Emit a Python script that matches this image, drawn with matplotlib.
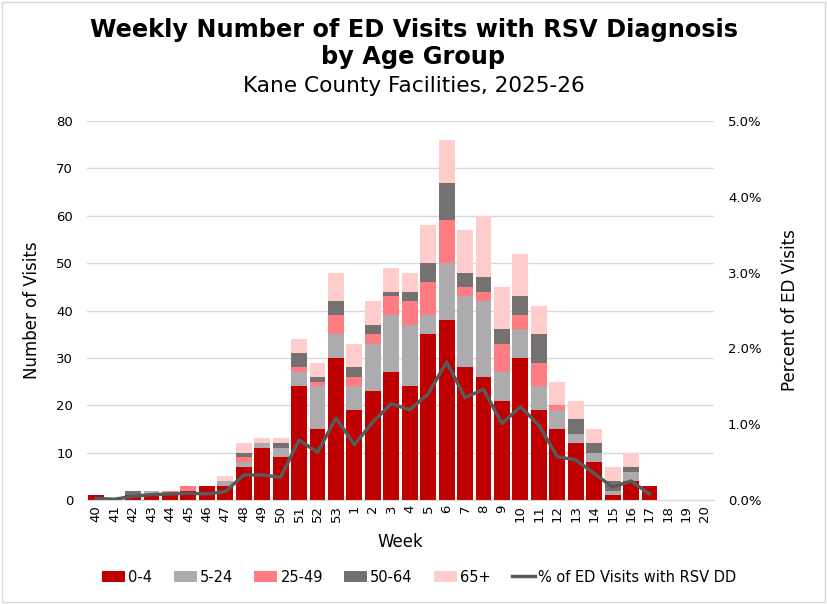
import matplotlib
matplotlib.use('Agg')
import matplotlib.pyplot as plt
from matplotlib.ticker import FuncFormatter, MultipleLocator
import numpy as np

weeks = ['40', '41', '42', '43', '44', '45', '46', '47', '48', '49', '50', '51', '52', '53',
         '1', '2', '3', '4', '5', '6', '7', '8', '9', '10', '11', '12', '13', '14', '15', '16',
         '17', '18', '19', '20']

age_0_4 = [1, 0, 1, 1, 1, 2, 3, 3, 7, 11, 9, 24, 15, 30,
           19, 23, 27, 24, 35, 38, 28, 26, 21, 30, 19, 15, 12, 8, 1, 4,
           3, 0, 0, 0]
age_5_24 = [0, 0, 0, 1, 0, 0, 0, 1, 1, 1, 2, 3, 9, 5,
            5, 10, 12, 13, 4, 12, 15, 16, 6, 6, 5, 4, 2, 2, 1, 2,
            0, 0, 0, 0]
age_25_49 = [0, 0, 0, 0, 1, 1, 0, 0, 1, 0, 0, 1, 1, 4,
             2, 2, 4, 5, 7, 9, 2, 2, 6, 3, 5, 1, 0, 0, 0, 0,
             0, 0, 0, 0]
age_50_64 = [0, 0, 1, 0, 0, 0, 0, 0, 1, 0, 1, 3, 1, 3,
             2, 2, 1, 2, 4, 8, 3, 3, 3, 4, 6, 0, 3, 2, 2, 1,
             0, 0, 0, 0]
age_65 = [0, 0, 0, 0, 0, 0, 0, 1, 2, 1, 1, 3, 3, 6,
          5, 5, 5, 4, 8, 9, 9, 13, 9, 9, 6, 5, 4, 3, 3, 3,
          0, 0, 0, 0]

# percent of ED visits with RSV DD (line ends at week 17)
pct_rsv = [0.02, 0.01, 0.05, 0.07, 0.08, 0.09, 0.08, 0.11, 0.33, 0.33, 0.30, 0.79, 0.63, 1.08,
           0.73, 1.03, 1.27, 1.19, 1.40, 1.82, 1.35, 1.46, 1.01, 1.23, 0.99, 0.57, 0.53, 0.35,
           0.17, 0.25, 0.08]

series = [
    ('0-4', age_0_4, '#C00000'),
    ('5-24', age_5_24, '#AEABAE'),
    ('25-49', age_25_49, '#FF7C80'),
    ('50-64', age_50_64, '#767171'),
    ('65+', age_65, '#FFCCCC'),
]

plt.rcParams['font.family'] = 'DejaVu Sans'

fig = plt.figure(figsize=(8.27, 6.04), dpi=100)
ax = fig.add_axes([87 / 827, 1 - 500 / 604, (714 - 87) / 827, 379 / 604])

x = np.arange(len(weeks))
bottom = np.zeros(len(weeks))
for name, vals, col in series:
    ax.bar(x, vals, width=0.86, bottom=bottom, color=col, label=name, zorder=2)
    bottom += np.array(vals)

ax.set_xlim(-0.5, len(weeks) - 0.5)
ax.set_ylim(0, 80)
ax.yaxis.set_major_locator(MultipleLocator(10))
ax.grid(axis='y', color='#D9D9D9', linewidth=1, zorder=0)
ax.set_axisbelow(True)
for s in ['top', 'right', 'left']:
    ax.spines[s].set_visible(False)
ax.spines['bottom'].set_color('#D9D9D9')
ax.tick_params(axis='both', length=0, labelsize=9.5, colors='#000000')
ax.tick_params(axis='y', pad=10)
ax.set_xticks(x)
ax.set_xticklabels(weeks, rotation=90, fontsize=9.5)
ax.set_xlabel('Week', fontsize=12, labelpad=8)
ax.set_ylabel('Number of Visits', fontsize=12, labelpad=11)

ax2 = ax.twinx()
ax2.plot(np.arange(len(pct_rsv)), pct_rsv, color='#595959', linewidth=2.5, zorder=3,
         label='% of ED Visits with RSV DD')
ax2.set_ylim(0, 5)
ax2.yaxis.set_major_locator(MultipleLocator(1))
ax2.yaxis.set_major_formatter(FuncFormatter(lambda v, p: '%.1f%%' % v))
for s in ['top', 'right', 'left', 'bottom']:
    ax2.spines[s].set_visible(False)
ax2.tick_params(axis='y', length=0, labelsize=9.5, pad=10)
ax2.set_ylabel('Percent of ED Visits', fontsize=12, labelpad=14)

h1, l1 = ax.get_legend_handles_labels()
h2, l2 = ax2.get_legend_handles_labels()
fig.legend(h1 + h2, l1 + l2, loc='center', bbox_to_anchor=(0.507, 1 - 577 / 604), ncol=6,
           frameon=False, fontsize=10.5, handlelength=1.6, handleheight=0.7,
           columnspacing=1.45, handletextpad=0.2)

fig.text(0.5, 1 - 30 / 604, 'Weekly Number of ED Visits with RSV Diagnosis', ha='center',
         va='center', fontsize=17.3, fontweight='bold')
fig.text(0.5, 1 - 57 / 604, 'by Age Group', ha='center', va='center', fontsize=17.3,
         fontweight='bold')
fig.text(0.5, 1 - 86 / 604, 'Kane County Facilities, 2025-26', ha='center', va='center',
         fontsize=15.6)

fig.patches.append(plt.Rectangle((0.003, 0.003), 0.994, 0.994, transform=fig.transFigure,
                                 fill=False, edgecolor='#D9D9D9', linewidth=1))

fig.savefig('out.png', dpi=100)
